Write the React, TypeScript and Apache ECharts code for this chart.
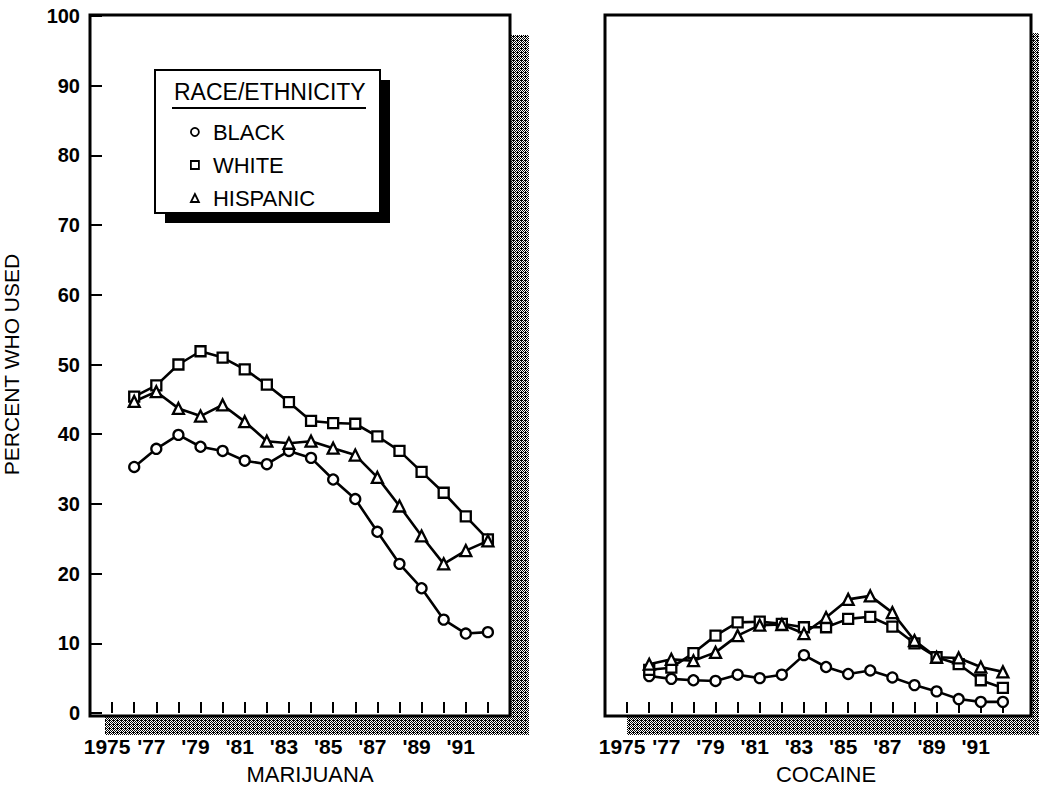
import React, { useEffect, useRef } from "react";
import * as echarts from "echarts";

const categories = ["1974","1975","1976","1977","1978","1979","1980","1981","1982","1983","1984","1985","1986","1987","1988","1989","1990","1991","1992","1993"];
const xTickLabels = ["","1975","","'77","","'79","","'81","","'83","","'85","","'87","","'89","","'91","",""];
const dataYears = ["1976","1977","1978","1979","1980","1981","1982","1983","1984","1985","1986","1987","1988","1989","1990","1991","1992"];
const yTicks = [0, 10, 20, 30, 40, 50, 60, 70, 80, 90, 100];

const marijuanaBlack = [35.3, 37.9, 39.9, 38.2, 37.6, 36.2, 35.7, 37.6, 36.6, 33.5, 30.7, 26.0, 21.4, 17.9, 13.4, 11.4, 11.6];
const marijuanaWhite = [45.4, 47.0, 50.0, 51.9, 51.0, 49.3, 47.1, 44.6, 41.9, 41.6, 41.5, 39.7, 37.6, 34.6, 31.6, 28.2, 24.9];
const marijuanaHispanic = [44.7, 46.1, 43.7, 42.6, 44.2, 41.8, 39.0, 38.7, 39.0, 38.0, 37.0, 33.8, 29.7, 25.4, 21.4, 23.3, 24.7];

const cocaineBlack = [5.3, 4.9, 4.7, 4.6, 5.5, 5.0, 5.5, 8.3, 6.6, 5.6, 6.1, 5.1, 4.0, 3.1, 2.0, 1.6, 1.6];
const cocaineWhite = [6.2, 6.5, 8.6, 11.1, 13.0, 13.1, 12.8, 12.3, 12.3, 13.5, 13.8, 12.4, 10.0, 8.0, 7.0, 4.7, 3.6];
const cocaineHispanic = [7.0, 7.7, 7.5, 8.7, 11.1, 12.6, 12.7, 11.4, 13.7, 16.3, 16.8, 14.4, 10.4, 8.0, 7.9, 6.6, 5.9];

const seriesNames = ["BLACK", "WHITE", "HISPANIC"];
const seriesSymbols = ["circle", "rect", "triangle"];

const FONT = "'Liberation Sans', Arial, Helvetica, sans-serif";

function makePattern(): any {
  const c = document.createElement("canvas");
  c.width = 4;
  c.height = 4;
  const ctx = c.getContext("2d");
  if (!ctx) return "#808080";
  ctx.fillStyle = "#ffffff";
  ctx.fillRect(0, 0, 4, 4);
  ctx.fillStyle = "#000000";
  const blacks = [
    [0, 0], [2, 0], [1, 1], [3, 1], [0, 2], [2, 2], [1, 3], [3, 3], [1, 0],
  ];
  blacks.forEach(([x, y]) => ctx.fillRect(x, y, 1, 1));
  return { image: c, repeat: "repeat" };
}

function pairs(vals: number[]) {
  return vals.map((v, i) => [dataYears[i], v]);
}

function lineSeries(name: string, symbol: string, vals: number[], idx: number) {
  return {
    type: "line",
    name,
    xAxisIndex: idx,
    yAxisIndex: idx,
    data: pairs(vals),
    symbol,
    symbolSize: symbol === "triangle" ? 11 : 10,
    showSymbol: true,
    lineStyle: { color: "#000", width: 2.6 },
    itemStyle: { color: "#fff", borderColor: "#000", borderWidth: 2.3 },
    z: 3,
  };
}

function xAxis(gridIndex: number, name: string, shift: number) {
  return {
    type: "category",
    gridIndex,
    data: categories,
    boundaryGap: false,
    axisLine: { show: false },
    axisTick: {
      show: true,
      inside: true,
      length: 11,
      lineStyle: { color: "#000", width: 2 },
      interval: (i: number) => i >= 1 && i <= 18,
    },
    axisLabel: {
      show: true,
      interval: (i: number) => xTickLabels[i] !== "",
      formatter: (_v: string, i: number) => xTickLabels[i],
      color: "#000",
      fontFamily: FONT,
      fontSize: 21,
      fontWeight: "bold",
      margin: 23,
      padding: [0, 10, 0, 0],
    },
    splitLine: { show: false },
    name,
    nameLocation: "middle",
    nameGap: 50,
    nameTextStyle: { color: "#000", fontFamily: FONT, fontSize: 22, padding: [0, 0, 0, shift] },
  };
}

export default function App() {
  const ref = useRef<HTMLDivElement>(null);
  useEffect(() => {
    if (!ref.current) return;
    const chart = echarts.init(ref.current, undefined, { renderer: "svg" });
    const pattern = makePattern();
    const option: any = {
      animation: false,
      backgroundColor: "#fff",
      grid: [
        { left: 90, top: 16, width: 420, height: 700, show: false },
        { left: 605, top: 16, width: 420, height: 700, show: false },
      ],
      xAxis: [xAxis(0, "MARIJUANA", 20), xAxis(1, "COCAINE", 22)],
      yAxis: [
        {
          type: "value",
          gridIndex: 0,
          min: yTicks[0],
          max: yTicks[yTicks.length - 1],
          interval: 10,
          axisLine: { show: false },
          axisTick: { show: true, inside: true, length: 12, lineStyle: { color: "#000", width: 2 } },
          axisLabel: { color: "#000", fontFamily: FONT, fontSize: 20, fontWeight: "bold", margin: 10 },
          splitLine: { show: false },
          name: "PERCENT WHO USED",
          nameLocation: "middle",
          nameGap: 68,
          nameRotate: 90,
          nameTextStyle: { color: "#000", fontFamily: FONT, fontSize: 21 },
        },
        {
          type: "value",
          gridIndex: 1,
          min: yTicks[0],
          max: yTicks[yTicks.length - 1],
          interval: 10,
          axisLine: { show: false },
          axisTick: { show: false },
          axisLabel: { show: false },
          splitLine: { show: false },
        },
      ],
      legend: {
        show: true,
        orient: "vertical",
        left: 185,
        top: 116,
        itemWidth: 8,
        itemHeight: 8,
        itemGap: 11,
        selectedMode: false,
        textStyle: { color: "#000", fontFamily: FONT, fontSize: 22, lineHeight: 22, padding: [0, 0, 0, 9] },
        data: seriesNames.map((n, i) => ({
          name: n,
          icon: seriesSymbols[i],
          itemStyle: { color: "#fff", borderColor: "#000", borderWidth: 1.8 },
        })),
      },
      graphic: [
        // shadows
        { type: "rect", shape: { x: 510, y: 35, width: 19, height: 700 }, style: { fill: pattern }, z: 0 },
        { type: "rect", shape: { x: 105, y: 716, width: 424, height: 19 }, style: { fill: pattern }, z: 0 },
        { type: "rect", shape: { x: 1031, y: 33, width: 20, height: 702 }, style: { fill: pattern }, z: 0 },
        { type: "rect", shape: { x: 627, y: 716, width: 424, height: 19 }, style: { fill: pattern }, z: 0 },
        // panel boxes
        { type: "rect", shape: { x: 90, y: 15, width: 420, height: 701 }, style: { fill: "transparent", stroke: "#000", lineWidth: 3 }, z: 1 },
        { type: "rect", shape: { x: 605, y: 15, width: 426, height: 701 }, style: { fill: "transparent", stroke: "#000", lineWidth: 3 }, z: 1 },
        // legend box
        { type: "rect", shape: { x: 165, y: 80, width: 225, height: 143 }, style: { fill: "#000" }, z: 1 },
        { type: "rect", shape: { x: 155, y: 70, width: 225, height: 143 }, style: { fill: "#fff", stroke: "#000", lineWidth: 2 }, z: 2 },
        {
          type: "text",
          x: 174,
          y: 92,
          style: { text: "RACE/ETHNICITY", fill: "#000", font: `23px ${FONT}`, textAlign: "left", textVerticalAlign: "middle" },
          z: 3,
        },
        { type: "line", shape: { x1: 172, y1: 108, x2: 366, y2: 108 }, style: { stroke: "#000", lineWidth: 2 }, z: 3 },
      ],
      series: [
        lineSeries(seriesNames[0], seriesSymbols[0], marijuanaBlack, 0),
        lineSeries(seriesNames[1], seriesSymbols[1], marijuanaWhite, 0),
        lineSeries(seriesNames[2], seriesSymbols[2], marijuanaHispanic, 0),
        lineSeries(seriesNames[0], seriesSymbols[0], cocaineBlack, 1),
        lineSeries(seriesNames[1], seriesSymbols[1], cocaineWhite, 1),
        lineSeries(seriesNames[2], seriesSymbols[2], cocaineHispanic, 1),
      ],
    };
    chart.setOption(option);
    return () => chart.dispose();
  }, []);
  return <div ref={ref} style={{ position: "fixed", left: 0, top: 0, width: 1039, height: 790 }} />;
}
